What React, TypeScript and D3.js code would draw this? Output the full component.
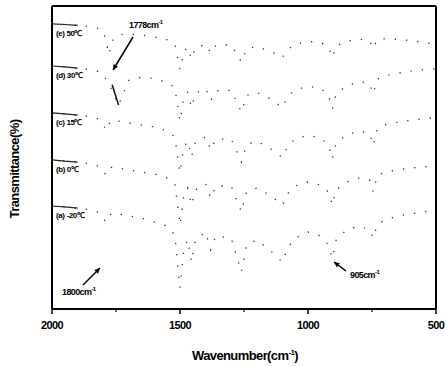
import * as d3 from "d3";

const wavenumbers = [
  2000, 1950, 1900, 1850, 1820, 1800, 1790, 1778, 1765, 1740, 1700, 1650, 1600, 1550, 1520, 1500,
  1485, 1470, 1455, 1440, 1400, 1380, 1360, 1300, 1260, 1240, 1200, 1150, 1100, 1080, 1050, 1000,
  950, 920, 905, 890, 850, 800, 760, 745, 730, 700, 650, 600, 550, 500,
];

const traceA = [
  34.0, 33.7, 33.3, 32.7, 32.0, 30.0, 28.7, 30.7, 31.7, 31.4, 30.7, 30.0, 28.7, 27.4, 24.4, 7.0,
  19.5, 22.8, 15.5, 22.8, 25.4, 19.5, 24.1, 23.4, 12.2, 21.1, 22.8, 19.5, 15.5, 20.1, 23.4, 25.4,
  24.1, 21.1, 16.8, 22.8, 26.1, 27.4, 26.1, 23.4, 27.7, 29.4, 30.7, 31.4, 32.0, 32.7,
];
const traceB = [
  49.2, 48.8, 48.5, 47.9, 47.2, 45.9, 44.2, 45.9, 46.9, 46.5, 45.9, 45.2, 44.6, 43.2, 41.3, 27.7,
  37.6, 39.9, 34.3, 39.3, 41.3, 36.6, 40.6, 40.6, 32.0, 38.6, 39.9, 37.6, 34.3, 38.0, 40.6, 41.9,
  40.9, 38.6, 34.3, 39.3, 41.9, 43.2, 42.6, 38.6, 43.9, 45.2, 45.9, 46.5, 46.9, 47.2,
];
const traceC = [
  64.7, 64.4, 64.0, 63.4, 62.7, 61.2, 59.0, 61.0, 62.4, 62.0, 61.4, 60.7, 60.1, 58.7, 56.8, 45.0,
  53.5, 55.4, 50.2, 55.0, 56.8, 52.5, 56.0, 56.1, 48.5, 54.2, 55.4, 53.1, 50.0, 53.6, 56.1, 57.4,
  56.4, 54.1, 49.5, 54.8, 57.4, 58.8, 58.0, 54.0, 59.4, 60.8, 61.6, 62.3, 62.8, 63.2,
];
const traceD = [
  80.2, 79.9, 79.5, 79.0, 78.4, 77.5, 76.0, 74.5, 72.0, 67.3, 75.5, 76.5, 76.0, 74.8, 73.0, 62.0,
  70.0, 71.5, 66.5, 71.2, 72.8, 68.8, 72.0, 72.2, 65.0, 70.5, 71.5, 69.5, 66.5, 70.0, 72.3, 73.5,
  72.8, 70.5, 66.0, 71.0, 73.6, 75.0, 74.5, 71.0, 75.8, 77.0, 77.8, 78.5, 79.0, 79.3,
];
const traceE = [
  94.1, 93.9, 93.6, 93.2, 92.6, 91.5, 89.0, 84.0, 88.5, 90.5, 90.8, 90.4, 89.8, 88.8, 87.3, 79.0,
  85.0, 86.4, 82.5, 86.2, 87.4, 84.5, 87.0, 87.2, 81.5, 85.8, 86.6, 85.2, 83.0, 85.6, 87.4, 88.3,
  88.0, 86.4, 83.0, 86.8, 88.3, 89.0, 88.7, 86.0, 89.0, 89.2, 89.0, 88.6, 88.0, 87.3,
];

const traces = [traceE, traceD, traceC, traceB, traceA];
const traceLabels = ["(e) 50℃", "(d) 30℃", "(c) 15℃", "(b) 0℃", "(a) -20℃"];
const majorTicks = [2000, 1500, 1000, 500];
const minorTicks = [1750, 1250, 750];

const W = 446, H = 366;
const m = { top: 6, right: 10, bottom: 57, left: 52 };

const App = () => {
  const x = d3.scaleLinear().domain([2000, 500]).range([m.left, W - m.right]);
  const y = d3.scaleLinear().domain([0, 100]).range([H - m.bottom, m.top]);
  const line = d3.line<number>()
    .x((_, i) => x(wavenumbers[i]))
    .y((d) => y(d));

  const font = "'Liberation Sans', Arial, sans-serif";
  const bottom = H - m.bottom;
  const right = W - m.right;

  // scanned arrow, drawn as a line plus a small filled head
  const arrow = (x1: number, y1: number, x2: number, y2: number, key: string) => {
    const a = Math.atan2(y2 - y1, x2 - x1);
    const L = 6, s = 0.45;
    const p1 = [x2 - L * Math.cos(a - s), y2 - L * Math.sin(a - s)];
    const p2 = [x2 - L * Math.cos(a + s), y2 - L * Math.sin(a + s)];
    return (
      <g key={key}>
        <line x1={x1} y1={y1} x2={x2} y2={y2} stroke="#000" strokeWidth={1.5} />
        <polygon points={`${x2},${y2} ${p1[0]},${p1[1]} ${p2[0]},${p2[1]}`} fill="#000" />
      </g>
    );
  };

  return (
    <svg width={W} height={H} style={{ position: "absolute", left: 0, top: 0 }} fontFamily={font}>
      <rect width={W} height={H} fill="#fff" />

      {traces.map((t, i) => (
        <g key={i}>
          <path d={line(t) ?? ""} fill="none" stroke="#333" strokeWidth={1.3} strokeDasharray="1.3 10" />
          <path d={line(t.slice(0, 3)) ?? ""} fill="none" stroke="#222" strokeWidth={1.2} />
          <text x={m.left + 4} y={y(t[0]) + 12} fontSize={8} fontWeight="bold" letterSpacing={-0.4}>
            {traceLabels[i]}
          </text>
        </g>
      ))}
      {/* 1778 band on trace d, still visible in the scan */}
      <path d={`M${x(1765)},${y(traceD[8]) - 6}L${x(1740)},${y(traceD[9])}`} stroke="#111" strokeWidth={1.5} fill="none" />

      {/* frame */}
      <line x1={m.left} y1={m.top} x2={m.left} y2={bottom} stroke="#000" strokeWidth={2} />
      <line x1={m.left} y1={m.top} x2={right} y2={m.top} stroke="#000" strokeWidth={2} />
      <line x1={right} y1={m.top} x2={right} y2={bottom} stroke="#000" strokeWidth={2} />
      <line x1={m.left} y1={bottom} x2={right} y2={bottom} stroke="#000" strokeWidth={2} />

      {majorTicks.map((t) => (
        <g key={t}>
          <line x1={x(t)} x2={x(t)} y1={bottom} y2={bottom + 5} stroke="#000" strokeWidth={1.5} />
          <text x={x(t)} y={bottom + 20} textAnchor="middle" fontSize={11} fontWeight="bold" letterSpacing={-0.6}>
            {t}
          </text>
        </g>
      ))}
      {minorTicks.map((t) => (
        <line key={t} x1={x(t)} x2={x(t)} y1={bottom} y2={bottom + 3} stroke="#000" strokeWidth={1.2} />
      ))}

      <text x={245} y={360} textAnchor="middle" fontSize={13} fontWeight="bold" letterSpacing={-0.6}>
        Wavenumber(cm<tspan dy={-5} fontSize={8}>-1</tspan><tspan dy={5}>)</tspan>
      </text>
      <text transform="translate(19,169) rotate(-90)" textAnchor="middle" fontSize={13} fontWeight="bold" letterSpacing={-0.6}>
        Transmittance(%)
      </text>

      <text x={129} y={28} fontSize={9} fontWeight="bold" letterSpacing={-0.6}>
        1778cm<tspan dy={-4} fontSize={6}>-1</tspan>
      </text>
      {arrow(133, 37, 113, 70, "a1")}
      <text x={62} y={295} fontSize={9} fontWeight="bold" letterSpacing={-0.6}>
        1800cm<tspan dy={-4} fontSize={6}>-1</tspan>
      </text>
      {arrow(83, 285, 100, 268, "a2")}
      <text x={350} y={278} fontSize={9} fontWeight="bold" letterSpacing={-0.6}>
        905cm<tspan dy={-4} fontSize={6}>-1</tspan>
      </text>
      {arrow(346, 271, 334, 262, "a3")}
    </svg>
  );
};

export default App;
